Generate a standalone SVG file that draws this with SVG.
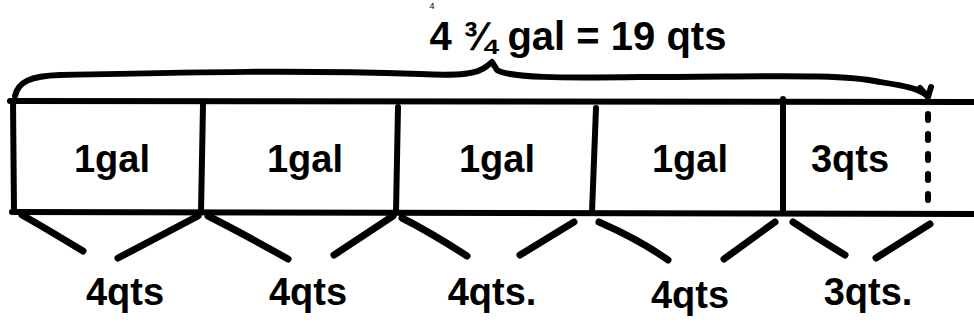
<svg xmlns="http://www.w3.org/2000/svg" width="974" height="329" viewBox="0 0 974 329">
<style>
.ln{fill:none;stroke:#000;stroke-width:6;stroke-linecap:round;stroke-linejoin:round}
.br{fill:none;stroke:#000;stroke-width:7;stroke-linecap:round}
.t{font-family:"Liberation Sans",Arial,sans-serif;font-size:38px;font-weight:bold;fill:#000;text-anchor:middle}
</style>
<rect width="974" height="329" fill="#fff"/>
<text x="432" y="9" font-family="Liberation Sans,sans-serif" font-size="9" text-anchor="middle">4</text>
<g id="title"><text class="t" x="578" y="50" style="font-size:40px">4 ¾ gal = 19 qts</text></g>
<g id="tape">
<path class="ln" d="M10 101 L974 102"/>
<path class="ln" d="M12 212 L974 214"/>
<path class="ln" d="M13 101 L14 212"/>
</g>
<g id="n1"><path class="ln" d="M203 105 L201 212"/><text class="t" x="112" y="172">1gal</text></g>
<g id="n2"><path class="ln" d="M398 107 L396 212"/><text class="t" x="305" y="172">1gal</text></g>
<g id="n3"><path class="ln" d="M596 108 L592 212"/><text class="t" x="497" y="172">1gal</text></g>
<g id="n4"><path class="ln" d="M783 99 L783 212"/><text class="t" x="690" y="172">1gal</text></g>
<g id="n5"><path class="ln" d="M928 114 L928 212" stroke-width="7" stroke-dasharray="6 14"/><text class="t" x="850" y="172">3qts</text></g>
<g id="connectors">
<path class="ln" d="M15 96 C18 82 30 76 60 75 C200 72 300 70 420 74 C460 76 478 74 487 66 L492 62 L497 70 C510 78 560 78 640 77 C760 77 840 73 880 82 C905 86 918 88 928 96"/>
<path class="ln" d="M920 88 L928 97 L931 87"/>
<path class="br" d="M22 215 Q40 225 83 251"/>
<path class="br" d="M198 216 L118 258"/>
<path class="br" d="M208 216 Q240 232 288 259"/>
<path class="br" d="M393 216 L334 255"/>
<path class="br" d="M402 218 Q430 232 467 256"/>
<path class="br" d="M574 222 L520 255"/>
<path class="br" d="M599 222 Q640 240 668 260"/>
<path class="br" d="M775 222 L724 259"/>
<path class="br" d="M793 222 Q820 240 845 255"/>
<path class="br" d="M930 224 L876 258"/>
</g>
<g id="labels">
<text class="t" x="125" y="305">4qts</text>
<text class="t" x="308" y="305">4qts</text>
<text class="t" x="492" y="305">4qts.</text>
<text class="t" x="690" y="308">4qts</text>
<text class="t" x="868" y="305">3qts.</text>
</g>
</svg>
